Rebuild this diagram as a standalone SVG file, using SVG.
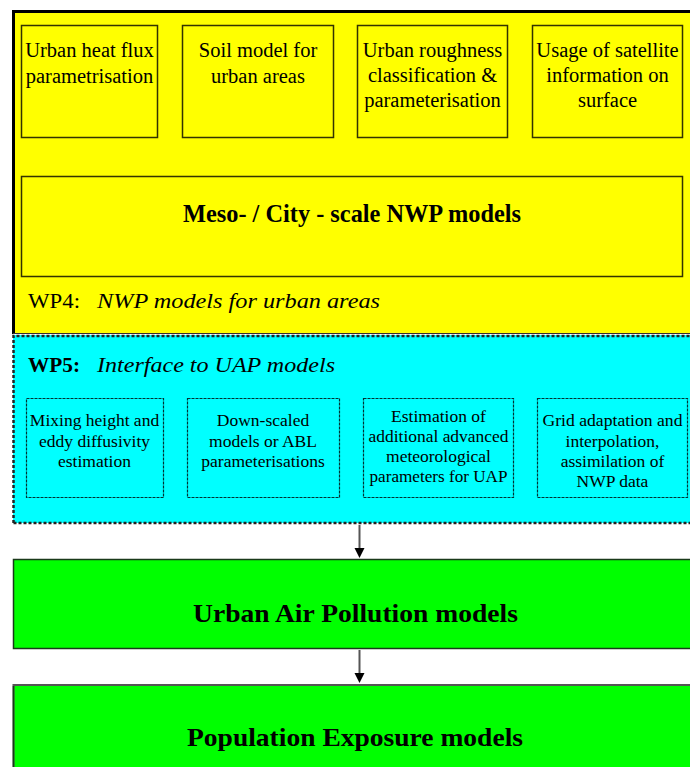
<svg xmlns="http://www.w3.org/2000/svg" width="690" height="767" viewBox="0 0 690 767">
<style>
.t{font-family:"Liberation Serif","Times New Roman",serif;fill:#000}
.yb{fill:#ffff00;stroke:#333300;stroke-width:1.5}
.cb{fill:#00ffff;stroke:#003333;stroke-width:1.2;stroke-dasharray:3 1}
.gb{fill:#00ff00;stroke:#1a3a1a;stroke-width:1.5}
.ty{font-size:20.5px;text-anchor:middle}
.tc{font-size:17.5px;text-anchor:middle}
.big{font-size:25px;font-weight:bold;text-anchor:middle}
.conn{stroke:#555;stroke-width:2;fill:none}
.head{fill:#000}
</style>
<rect width="690" height="767" fill="#ffffff"/>

<g id="wp4">
<rect x="13" y="11" width="690" height="323" fill="#ffff00"/>
<path d="M13.5,334 V11.5 H690" fill="none" stroke="#000" stroke-width="3"/>
<line x1="13" y1="333.5" x2="690" y2="333.5" stroke="#333" stroke-width="1"/>
<text class="t" x="28" y="308" font-size="20px" textLength="52" lengthAdjust="spacingAndGlyphs">WP4:</text>
<text class="t" x="97" y="308" font-size="21px" font-style="italic" textLength="283" lengthAdjust="spacingAndGlyphs">NWP models for urban areas</text>
</g>

<g id="wp5">
<rect x="13" y="335" width="690" height="188" fill="#00ffff"/>
<path d="M13.5,523 V336 H690 M13.5,523 H690" fill="none" stroke="#222" stroke-width="2.5" stroke-dasharray="3 2"/>
<text class="t" x="28" y="372" font-size="20px" font-weight="bold" textLength="52" lengthAdjust="spacingAndGlyphs">WP5:</text>
<text class="t" x="97" y="372" font-size="21px" font-style="italic" textLength="238" lengthAdjust="spacingAndGlyphs">Interface to UAP models</text>
</g>

<g id="heatflux">
<rect class="yb" x="21.5" y="25.5" width="136" height="112"/>
<text class="t ty" x="89.5" y="57">Urban heat flux</text>
<text class="t ty" x="89.5" y="83">parametrisation</text>
</g>
<g id="soil">
<rect class="yb" x="182.5" y="25.5" width="151" height="112"/>
<text class="t ty" x="258" y="57">Soil model for</text>
<text class="t ty" x="258" y="83">urban areas</text>
</g>
<g id="roughness">
<rect class="yb" x="357.5" y="25.5" width="150" height="112"/>
<text class="t ty" x="432.5" y="57">Urban roughness</text>
<text class="t ty" x="432.5" y="82">classification &amp;</text>
<text class="t ty" x="432.5" y="107">parameterisation</text>
</g>
<g id="satellite">
<rect class="yb" x="532.5" y="25.5" width="150" height="112"/>
<text class="t ty" x="607.5" y="57">Usage of satellite</text>
<text class="t ty" x="607.5" y="82">information on</text>
<text class="t ty" x="607.5" y="107">surface</text>
</g>
<g id="meso">
<rect class="yb" x="21.5" y="176.5" width="661" height="100"/>
<text class="t big" x="352" y="222" textLength="338" lengthAdjust="spacingAndGlyphs">Meso- / City - scale NWP models</text>
</g>

<g id="mixing">
<rect class="cb" x="26.5" y="398.5" width="137" height="99"/>
<text class="t tc" x="94.5" y="426">Mixing height and</text>
<text class="t tc" x="94.5" y="447">eddy diffusivity</text>
<text class="t tc" x="94.5" y="467">estimation</text>
</g>
<g id="downscaled">
<rect class="cb" x="187.5" y="398.5" width="152" height="99"/>
<text class="t tc" x="263" y="426">Down-scaled</text>
<text class="t tc" x="263" y="447">models or ABL</text>
<text class="t tc" x="263" y="467">parameterisations</text>
</g>
<g id="estimation">
<rect class="cb" x="363.5" y="398.5" width="150" height="99"/>
<text class="t tc" x="438.5" y="422">Estimation of</text>
<text class="t tc" x="438.5" y="442" textLength="140" lengthAdjust="spacingAndGlyphs">additional advanced</text>
<text class="t tc" x="438.5" y="462">meteorological</text>
<text class="t tc" x="438.5" y="482" textLength="138" lengthAdjust="spacingAndGlyphs">parameters for UAP</text>
</g>
<g id="grid">
<rect class="cb" x="537.5" y="398.5" width="150" height="99"/>
<text class="t tc" x="612.5" y="426" textLength="140" lengthAdjust="spacingAndGlyphs">Grid adaptation and</text>
<text class="t tc" x="612.5" y="447">interpolation,</text>
<text class="t tc" x="612.5" y="467">assimilation of</text>
<text class="t tc" x="612.5" y="487">NWP data</text>
</g>

<g id="uap">
<rect class="gb" x="13.5" y="559.5" width="690" height="89"/>
<text class="t big" x="355.5" y="622" font-size="27px" textLength="325" lengthAdjust="spacingAndGlyphs">Urban Air Pollution models</text>
</g>
<g id="exposure">
<rect x="13" y="684" width="690" height="90" fill="#00ff00"/>
<path d="M13.5,767 V685 H690" fill="none" stroke="#555" stroke-width="2"/>
<path d="M13.5,767 V686" fill="none" stroke="#1a3a1a" stroke-width="1.5"/>
<text class="t big" x="355" y="746" font-size="27px" textLength="336" lengthAdjust="spacingAndGlyphs">Population Exposure models</text>
</g>

<g id="connectors">
<line class="conn" x1="359.5" y1="525" x2="359.5" y2="549"/>
<polygon class="head" points="354.5,548 364.5,548 359.5,558"/>
<line class="conn" x1="359.5" y1="650" x2="359.5" y2="674"/>
<polygon class="head" points="354.5,673 364.5,673 359.5,683"/>
</g>
</svg>
